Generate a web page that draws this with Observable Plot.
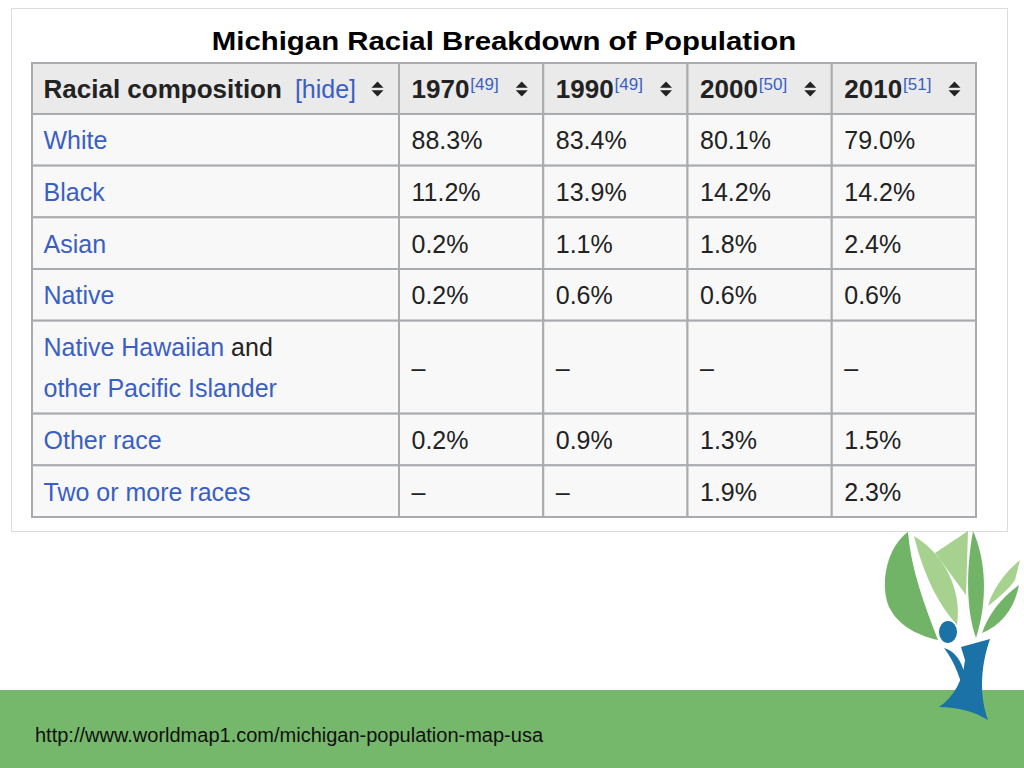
<!DOCTYPE html>
<html>
<head>
<meta charset="utf-8">
<script src="https://cdn.jsdelivr.net/npm/d3@7"></script>
<script src="https://cdn.jsdelivr.net/npm/@observablehq/plot@0.6"></script>
<style>
  html, body { margin: 0; padding: 0; background: #fff; }
  #page { position: relative; width: 1024px; height: 768px; overflow: hidden; background: #fff; font-family: "Liberation Sans", Arial, sans-serif; }
  #panel { position: absolute; left: 11px; top: 8px; width: 995px; height: 522px; border: 1px solid #dcdcdc; background: #fff; }
  #title { position: absolute; left: 0; top: 26px; width: 1008px; text-align: center; font-weight: bold; font-size: 26px; line-height: 30px; color: #000; transform: scaleX(1.13); transform-origin: 504px 0; }
  #chart { position: absolute; left: 0; top: 0; }
  #band { position: absolute; left: 0; top: 690px; width: 1024px; height: 78px; background: #75b76b; }
  #url { position: absolute; left: 35px; top: 723px; font-size: 20px; line-height: 24px; color: #111; font-family: "Liberation Sans", Arial, sans-serif; }
  #logo { position: absolute; left: 0; top: 0; }
</style>
</head>
<body>
<div id="page">
  <div id="panel"></div>
  <div id="band"></div>
  <div id="url">http://www.worldmap1.com/michigan-population-map-usa</div>
  <div id="chart"></div>
  <div id="title">Michigan Racial Breakdown of Population</div>
  <svg id="logo" width="1024" height="768" viewBox="0 0 1024 768">
    <path d="M 908 532 C 888 546 879 582 889 607 C 899 627 920 636 938 640 C 925 606 911 570 908 532 Z" fill="#72b467"/>
    <path d="M 914 536 C 945 555 962 590 957 625 C 940 606 925 580 914 536 Z" fill="#a6d18e"/>
    <path d="M 935 553 L 968 531 L 966 595 C 955 580 945 566 935 553 Z" fill="#a6d18e"/>
    <path d="M 973 531 C 986 560 988 600 976 638 C 966 610 966 570 973 531 Z" fill="#72b467"/>
    <path d="M 1020 560 L 1015 580 C 1008 590 998 598 988 606 C 992 590 1005 572 1020 560 Z" fill="#a6d18e"/>
    <path d="M 1019 585 C 1014 610 1001 625 982 633 C 988 615 1001 598 1019 585 Z" fill="#72b467"/>
    <ellipse cx="948" cy="632" rx="9" ry="11" fill="#1a72a6"/>
    <path d="M 961 647 L 990 639 C 982 662 978 692 988 720 C 975 712 958 707 939 707 C 954 697 963 680 965 660 Z" fill="#1a72a6"/>
    <path d="M 944 648 C 958 652 968 668 966 700 C 961 680 955 662 944 648 Z" fill="#1a72a6"/>
  </svg>
</div>
<script>
// ---- data ----
const headerLabel = "Racial composition";
const hideLabel = "[hide]";
const categories = [
  "White",
  "Black",
  "Asian",
  "Native",
  "Native Hawaiian and\nother Pacific Islander",
  "Other race",
  "Two or more races"
];
const years = ["1970", "1990", "2000", "2010"];
const yearRefs = ["[49]", "[49]", "[50]", "[51]"];
const pct1970 = [88.3, 11.2, 0.2, 0.2, null, 0.2, null];
const pct1990 = [83.4, 13.9, 1.1, 0.6, null, 0.9, null];
const pct2000 = [80.1, 14.2, 1.8, 0.6, null, 1.3, 1.9];
const pct2010 = [79.0, 14.2, 2.4, 0.6, null, 1.5, 2.3];
const series = [pct1970, pct1990, pct2000, pct2010];

// ---- layout ----
const FONT = "'Liberation Sans', Arial, sans-serif";
const LINK = "#3a5fc4";
const TEXT = "#222222";
const colW = [367, 144.25, 144.25, 144.25, 144.25];
const headerH = 51, rowH = 51.7, lineStep = 41, extraLine = 41.3;
const colX = [0];
colW.forEach(w => colX.push(colX[colX.length - 1] + w));
const rowLines = categories.map(c => c.split("\n").length);
const rowY = [0, headerH];
rowLines.forEach(n => rowY.push(rowY[rowY.length - 1] + rowH + (n - 1) * extraLine));
const totalW = colX[colX.length - 1];
const totalH = rowY[rowY.length - 1];

const ctx = document.createElement("canvas").getContext("2d");
function tw(text, font) { ctx.font = font; return ctx.measureText(text).width; }

// cells
const cells = [];
for (let r = 0; r <= categories.length; r++) {
  for (let c = 0; c < colW.length; c++) {
    cells.push({x1: colX[c], x2: colX[c + 1], y1: rowY[r], y2: rowY[r + 1], header: r === 0});
  }
}
const rowMid = r => (rowY[r] + rowY[r + 1]) / 2;

// category label pieces (blue links, plain "and")
const labelPieces = [];
categories.forEach((cat, i) => {
  const lines = cat.split("\n");
  lines.forEach((line, j) => {
    const off = (j - (lines.length - 1) / 2) * lineStep;
    const m = line.match(/^(.*) (and)$/);
    if (m) {
      labelPieces.push({text: m[1], row: i + 1, off, dx: 0, fill: LINK});
      labelPieces.push({text: m[2], row: i + 1, off, dx: tw(m[1] + " ", "25px " + FONT), fill: TEXT});
    } else {
      labelPieces.push({text: line, row: i + 1, off, dx: 0, fill: LINK});
    }
  });
});

const values = [];
series.forEach((s, c) => s.forEach((v, r) => values.push({col: c + 1, row: r + 1, text: v == null ? "–" : v.toFixed(1) + "%"})));

const yearHeads = years.map((y, i) => ({col: i + 1, text: y, ref: yearRefs[i], w: tw(y, "bold 26px " + FONT)}));
const iconCols = colW.map((w, i) => i);

const sortSymbol = {
  draw(context) {
    context.moveTo(-6, -1.3); context.lineTo(6, -1.3); context.lineTo(0, -7.5); context.closePath();
    context.moveTo(-6, 1.3); context.lineTo(6, 1.3); context.lineTo(0, 7.5); context.closePath();
  }
};

const headY = rowMid(0);
const chart = Plot.plot({
  width: 1024,
  height: 768,
  marginLeft: 32,
  marginRight: 48,
  marginTop: 63,
  marginBottom: 251,
  x: {domain: [0, totalW], axis: null},
  y: {domain: [0, totalH], reverse: true, axis: null},
  style: {fontFamily: FONT, background: "transparent", overflow: "visible"},
  marks: [
    Plot.rect(cells, {x1: "x1", x2: "x2", y1: "y1", y2: "y2", fill: d => d.header ? "#eaeaea" : "#f8f8f8", stroke: "#a9abae", strokeWidth: 2}),
    // header
    Plot.text([headerLabel], {x: colX[0], y: headY, text: d => d, textAnchor: "start", lineAnchor: "middle", dx: 11, dy: 1, fontSize: 26, fontWeight: "bold", fill: TEXT}),
    Plot.text([hideLabel], {x: colX[0], y: headY, text: d => d, textAnchor: "start", lineAnchor: "middle", dx: 11 + tw(headerLabel, "bold 26px " + FONT) + 13, dy: 1, fontSize: 25, fill: LINK}),
    Plot.text(yearHeads, {x: d => colX[d.col], y: headY, text: "text", textAnchor: "start", lineAnchor: "middle", dx: 12, dy: 1, fontSize: 26, fontWeight: "bold", fill: TEXT}),
    ...yearHeads.map(d => Plot.text([d], {x: colX[d.col], y: headY, text: "ref", textAnchor: "start", lineAnchor: "middle", dx: 12 + d.w + 1, dy: -4, fontSize: 17, fill: LINK})),
    Plot.dot(iconCols, {x: c => colX[c + 1], y: headY, dx: -22, symbol: sortSymbol, fill: "#222", stroke: "none"}),
    // body
    ...labelPieces.map(p => Plot.text([p], {x: colX[0], y: rowMid(p.row) + p.off, text: "text", textAnchor: "start", lineAnchor: "middle", dx: 11 + p.dx, dy: 1, fontSize: 25, fill: p.fill})),
    Plot.text(values, {x: d => colX[d.col], y: d => rowMid(d.row), text: "text", textAnchor: "start", lineAnchor: "middle", dx: 12, dy: 1, fontSize: 25, fill: TEXT})
  ]
});
document.getElementById("chart").appendChild(chart);
</script>
</body>
</html>
